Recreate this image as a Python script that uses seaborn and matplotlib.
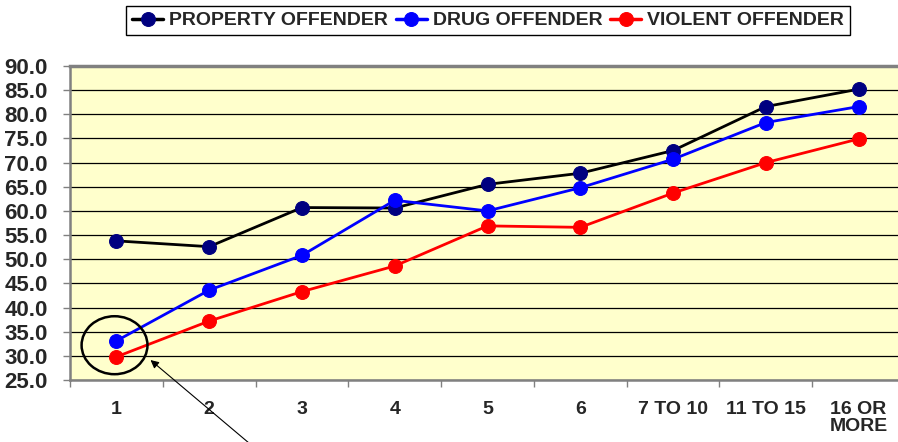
import matplotlib
matplotlib.use("Agg")
import matplotlib.pyplot as plt
from matplotlib.patches import Ellipse
import seaborn as sns
import pandas as pd

# ── Data ──────────────────────────────────────────────────────────────────────
CATEGORIES = ["1", "2", "3", "4", "5", "6", "7 TO 10", "11 TO 15", "16 OR\nMORE"]
PROPERTY = [53.8, 52.6, 60.7, 60.6, 65.5, 67.8, 72.5, 81.6, 85.2]
DRUG     = [33.1, 43.6, 50.8, 62.2, 60.0, 64.8, 70.7, 78.3, 81.6]
VIOLENT  = [29.8, 37.2, 43.3, 48.6, 56.9, 56.6, 63.7, 70.0, 74.9]
Y_TICKS  = [25, 30, 35, 40, 45, 50, 55, 60, 65, 70, 75, 80, 85, 90]

SERIES = [
    ("PROPERTY OFFENDER", PROPERTY, "#000000", "#000080"),
    ("DRUG OFFENDER",     DRUG,     "#0000FF", "#0000FF"),
    ("VIOLENT OFFENDER",  VIOLENT,  "#FF0000", "#FF0000"),
]

# ── Style ─────────────────────────────────────────────────────────────────────
sns.set_theme(style="white")
plt.rcParams["font.family"] = ["Liberation Sans", "DejaVu Sans"]
plt.rcParams["font.weight"] = "bold"

fig = plt.figure(figsize=(8.98, 4.42), dpi=100)
ax = fig.add_axes([70 / 898, 62 / 442, 835 / 898, 314 / 442])
ax.set_facecolor("#FFFFCC")

xpos = list(range(len(CATEGORIES)))
for name, vals, line_c, mark_c in SERIES:
    df = pd.DataFrame({"x": xpos, "y": vals})
    sns.lineplot(data=df, x="x", y="y", ax=ax, color=line_c, linewidth=2,
                 marker="o", markersize=10, markerfacecolor=mark_c,
                 markeredgecolor=mark_c, label=name, sort=False)

ax.set_xlim(-0.5, len(CATEGORIES) - 0.5)
ax.set_ylim(25, 90)
ax.set_yticks(Y_TICKS)
ax.set_yticklabels([f"{v:.1f}" for v in Y_TICKS], fontsize=16, fontweight="bold")
ax.yaxis.grid(True, color="black", linewidth=0.9)
ax.set_axisbelow(True)

# category boundaries as ticks, labels centred on categories
ax.set_xticks([i - 0.5 for i in range(len(CATEGORIES) + 1)])
ax.set_xticklabels([])
ax.set_xticks(xpos, minor=True)
ax.set_xticklabels(CATEGORIES, minor=True, fontsize=14, fontweight="bold",
                   linespacing=1.05)
ax.tick_params(axis="x", which="minor", length=0, pad=15)
ax.tick_params(axis="x", which="major", length=5, width=1, color="#808080",
               direction="out", bottom=True)
ax.tick_params(axis="y", length=5, width=1, color="#808080", direction="out",
               left=True, pad=11)
ax.set_xlabel("")
ax.set_ylabel("")

for side in ["left", "bottom", "top"]:
    ax.spines[side].set_color("#808080")
    ax.spines[side].set_linewidth(1.8)
ax.spines["top"].set_linewidth(2.5)
ax.spines["right"].set_visible(False)

# circle around first category + arrow
ax.add_patch(Ellipse((-0.02, 32.2), 0.71, 12.0, fill=False, edgecolor="black",
                     linewidth=1.8, zorder=5))
ax.annotate("", xy=(0.345, 29.5), xycoords="data",
            xytext=(253 / 898, -0.01), textcoords="figure fraction",
            arrowprops=dict(arrowstyle="-|>", color="black", lw=0.8,
                            mutation_scale=12), annotation_clip=False)

leg = ax.legend(loc="upper center", bbox_to_anchor=(488 / 898, 436 / 442),
                bbox_transform=fig.transFigure, ncol=3, frameon=True,
                fancybox=False, framealpha=1, edgecolor="black",
                prop={"size": 14, "weight": "bold"}, handlelength=1.6,
                handletextpad=0.3, columnspacing=0.4, borderpad=0.3,
                borderaxespad=0)
leg.get_frame().set_linewidth(1.0)
for h in leg.get_lines():
    h.set_linewidth(2.5)

fig.savefig("out.png", dpi=100)
